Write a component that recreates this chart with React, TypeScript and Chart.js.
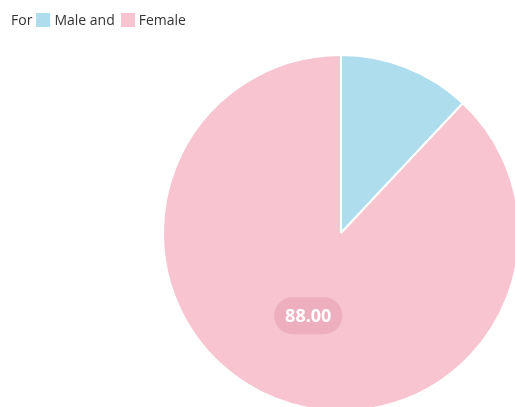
import React, { useEffect, useRef } from "react";
import { Chart, registerables } from "chart.js";

Chart.register(...registerables);

const categories = ["Male and", "Female"];
const values = [12, 88];
const colors = ["#AEDDEE", "#F7C4D0"];
const legendPrefix = "For";
const labelIndex = 1;

const labelPlugin = {
  id: "pillLabel",
  afterDatasetsDraw(chart: any) {
    const meta = chart.getDatasetMeta(0);
    const el = meta.data[labelIndex];
    if (!el) return;
    const { x, y } = el.getCenterPoint();
    const text = values[labelIndex].toFixed(2);
    const ctx = chart.ctx;
    ctx.save();
    ctx.font = "bold 18px 'Open Sans', sans-serif";
    const w = ctx.measureText(text).width + 22;
    const h = 37;
    ctx.fillStyle = "rgba(222,140,160,0.38)";
    ctx.beginPath();
    ctx.roundRect(x - w / 2, y - h / 2, w, h, h / 2);
    ctx.fill();
    ctx.fillStyle = "#ffffff";
    ctx.textAlign = "center";
    ctx.textBaseline = "middle";
    ctx.fillText(text, x, y + 1);
    ctx.restore();
  },
};

export default function App() {
  const ref = useRef<HTMLCanvasElement>(null);
  useEffect(() => {
    if (!ref.current) return;
    const chart = new Chart(ref.current, {
      type: "pie",
      data: {
        labels: categories,
        datasets: [
          {
            data: values,
            backgroundColor: colors,
            borderColor: "#ffffff",
            borderWidth: 2,
          },
        ],
      },
      options: {
        responsive: false,
        animation: false,
        radius: 178,
        layout: { padding: { left: 163, right: 163, top: 55, bottom: 55 } },
        plugins: {
          legend: { display: false },
          tooltip: { enabled: false },
        },
      } as any,
      plugins: [labelPlugin],
    });
    return () => chart.destroy();
  }, []);

  const textStyle: React.CSSProperties = {
    fontFamily: "'Open Sans', sans-serif",
    fontSize: 14,
    color: "#333",
    lineHeight: "15px",
  };
  const box = (c: string, first: boolean): React.CSSProperties => ({
    display: "inline-block",
    width: 14,
    height: 14,
    background: c,
    marginRight: 4,
    marginLeft: first ? 4 : 6,
  });

  return (
    <div
      style={{
        position: "fixed",
        left: 0,
        top: 0,
        width: 515,
        height: 407,
        overflow: "hidden",
        background: "#fff",
      }}
    >
      <canvas
        ref={ref}
        width={682}
        height={466}
        style={{ position: "absolute", left: 0, top: 0 }}
      />
      <div
        style={{
          ...textStyle,
          position: "absolute",
          left: 11,
          top: 12,
          display: "flex",
          alignItems: "center",
          whiteSpace: "nowrap",
        }}
      >
        <span>{legendPrefix}</span>
        {categories.map((c, i) => (
          <React.Fragment key={c}>
            <span style={box(colors[i], i === 0)} />
            <span>{c}</span>
          </React.Fragment>
        ))}
      </div>
    </div>
  );
}
